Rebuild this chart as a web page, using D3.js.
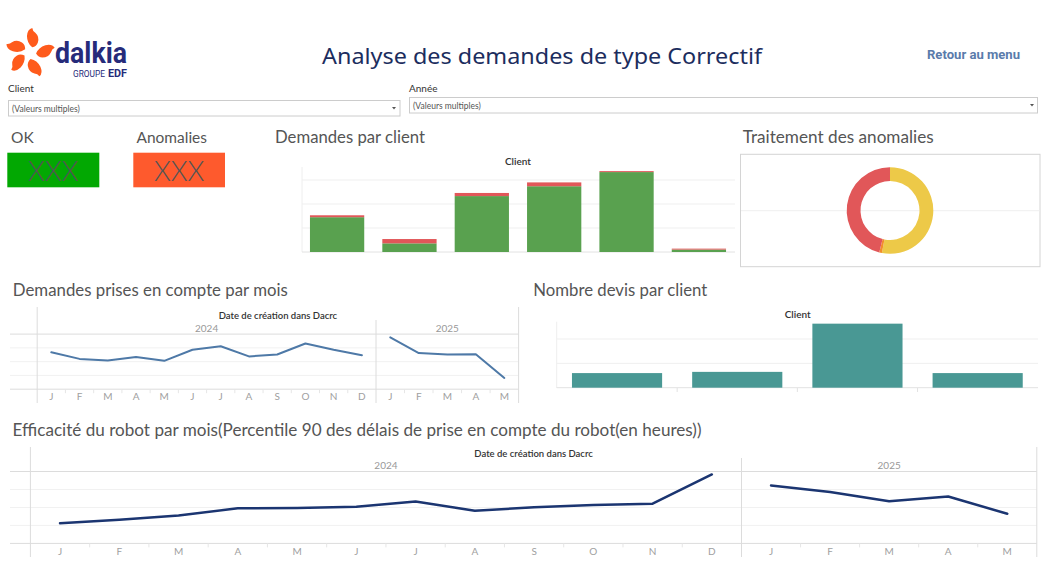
<!DOCTYPE html>
<html><head><meta charset="utf-8">
<script src="https://cdn.jsdelivr.net/npm/d3@7"></script>
<style>
body{margin:0;background:#fff;}
svg{display:block;font-family:Lato,"Open Sans",sans-serif;}
</style>
</head><body>
<svg id="c" width="1046" height="574"></svg>
<script>
// ---------- DATA ----------
const clients = ["Client 1","Client 2","Client 3","Client 4","Client 5","Client 6"];
const okDemandes = [145, 36, 233, 274, 333, 10];
const anomalyDemandes = [8, 18, 13, 16, 4, 4];
const demandesTicks = [0, 100, 200, 300];

const treatmentLabels = ["Traitée", "En cours", "Non traitée"];
const treatmentValues = [53, 1, 46];

const devisClients = ["Client 1","Client 2","Client 3","Client 4"];
const devisValues = [6, 6.5, 26.3, 6];
const devisTicks = [0, 10, 20];

const years = ["2024", "2025"];
const months2024 = ["J","F","M","A","M","J","J","A","S","O","N","D"];
const months2025 = ["J","F","M","A","M"];
const demandesMois2024 = [134, 110, 104, 117, 103, 143, 156, 119, 126, 166, 143, 123];
const demandesMois2025 = [188, 131, 126, 127, 41];
const demandesMoisTicks = [0, 50, 100, 150, 200];
const robot2024 = [22.5, 26.2, 31.1, 39.0, 39.3, 40.9, 46.5, 36.4, 40.1, 42.6, 44.2, 76.7];
const robot2025 = [64.4, 57.3, 46.9, 52.1, 33.0];
const robotTicks = [0, 20, 40, 60, 80];

// ---------- DRAW ----------
const svg = d3.select("#c");
svg.append("rect").attr("width",1046).attr("height",574).attr("fill","#fff");

function txt(x, y, s, o = {}) {
  const t = svg.append("text").attr("x", x).attr("y", y).text(s)
    .attr("dominant-baseline", "central")
    .attr("font-size", o.size || 16)
    .attr("fill", o.fill || "#555")
    .attr("text-anchor", o.anchor || "start")
    .attr("font-weight", o.weight || "normal");
  if (o.family) t.attr("font-family", o.family);
  if (o.len) t.attr("textLength", o.len).attr("lengthAdjust", "spacingAndGlyphs");
  return t;
}
function hline(x1, x2, y, c) {
  svg.append("line").attr("x1",x1).attr("x2",x2).attr("y1",y).attr("y2",y).attr("stroke",c).attr("stroke-width",1);
}
function vline(x, y1, y2, c) {
  svg.append("line").attr("x1",x).attr("x2",x).attr("y1",y1).attr("y2",y2).attr("stroke",c).attr("stroke-width",1);
}

// Logo
const logo = svg.append("g");
const flameAngles = [-78, -152, 145, 75, -5];
flameAngles.forEach(a => {
  logo.append("path")
    .attr("d", "M6,1 Q9,-5 16,-6.5 Q23,-7.5 25,-3 Q22,-2 21,1 Q18,6 12,5.5 Q8,5 6,1Z")
    .attr("fill", "#fe5b1c")
    .attr("transform", `translate(30,53) rotate(${a})`);
});
txt(55, 52, "dalkia", {size: 30, weight: "bold", fill: "#262b7a", family: "Roboto", len: 72});
txt(73, 73.5, "GROUPE", {size: 9, fill: "#262b7a", family: "Roboto", len: 32});
txt(108, 73.5, "EDF", {size: 10, weight: "bold", fill: "#262b7a", family: "Roboto", len: 19});

// Header
txt(542, 55, "Analyse des demandes de type Correctif", {size: 22, fill: "#1c2d5e", anchor: "middle", family: "Noto Sans", len: 440});
txt(973.5, 54, "Retour au menu", {size: 13, weight: "bold", fill: "#5a7bab", anchor: "middle", family: "Roboto", len: 93});

// Filters
txt(8, 88, "Client", {size: 10, fill: "#333"});
txt(409, 88, "Année", {size: 10, fill: "#333"});
svg.append("rect").attr("x",8.5).attr("y",100.5).attr("width",391.5).attr("height",15.5).attr("fill","#fff").attr("stroke","#ccc");
txt(12, 108.5, "(Valeurs multiples)", {size: 8.5, fill: "#555"});
svg.append("path").attr("d","M392,107 L396,107 L394,109.5Z").attr("fill","#555");
svg.append("rect").attr("x",409.5).attr("y",97.5).attr("width",628).attr("height",15.5).attr("fill","#fff").attr("stroke","#ccc");
txt(413, 105.5, "(Valeurs multiples)", {size: 8.5, fill: "#555"});
svg.append("path").attr("d","M1030,104 L1034,104 L1032,106.5Z").attr("fill","#555");

// KPIs
txt(11, 136.5, "OK", {size: 15.5});
txt(136.5, 136.5, "Anomalies", {size: 15.5, len: 70.5});
svg.append("rect").attr("x",7.3).attr("y",152.7).attr("width",92).attr("height",34.6).attr("fill","#02a802");
svg.append("rect").attr("x",133.3).attr("y",152.7).attr("width",91.7).attr("height",34.6).attr("fill","#fe5a2d");
txt(53.3, 170, "XXX", {size: 27, fill: "#555", anchor: "middle", weight: 300});
txt(179.2, 170, "XXX", {size: 27, fill: "#555", anchor: "middle", weight: 300});

// ---------- Demandes par client ----------
txt(275, 136.5, "Demandes par client", {size: 16.5, len: 150});
txt(518, 161, "Client", {size: 10, fill: "#333", anchor: "middle", weight: "600"});
{
  const x = d3.scaleBand().domain(clients).range([302, 734]).paddingInner(0.25).paddingOuter(0.11);
  const y = d3.scaleLinear().domain([0, 300]).range([252, 180]);
  vline(302, 167, 252, "#eee");
  demandesTicks.forEach(t => hline(302, 735, y(t), t === 0 ? "#e2e2e2" : "#efefef"));
  const g = svg.append("g");
  g.selectAll(".ok").data(clients).join("rect")
    .attr("x", d => x(d)).attr("width", x.bandwidth())
    .attr("y", (d,i) => y(okDemandes[i])).attr("height", (d,i) => y(0) - y(okDemandes[i]))
    .attr("fill", "#59a14f");
  g.selectAll(".an").data(clients).join("rect")
    .attr("x", d => x(d)).attr("width", x.bandwidth())
    .attr("y", (d,i) => y(okDemandes[i] + anomalyDemandes[i]))
    .attr("height", (d,i) => y(okDemandes[i]) - y(okDemandes[i] + anomalyDemandes[i]))
    .attr("fill", "#e15759");
}

// ---------- Traitement des anomalies ----------
txt(742.7, 136.5, "Traitement des anomalies", {size: 16.5, len: 191});
svg.append("rect").attr("x",740.5).attr("y",154.3).attr("width",299.5).attr("height",112.4).attr("fill","none").attr("stroke","#d4d4d4");
hline(741, 1039.5, 210.7, "#efefef");
{
  const pie = d3.pie().sort(null)(treatmentValues);
  const arc = d3.arc().innerRadius(29.5).outerRadius(43.3);
  const colors = ["#edc948", "#f28e2b", "#e15759"];
  svg.append("g").attr("transform","translate(890,210.5)")
    .selectAll("path").data(pie).join("path")
    .attr("d", arc).attr("fill", (d,i) => colors[i]);
}

// ---------- Nombre devis par client ----------
txt(533.3, 290, "Nombre devis par client", {size: 16.5, len: 174});
txt(797.7, 314.3, "Client", {size: 10, fill: "#333", anchor: "middle", weight: "600"});
{
  const x = d3.scaleBand().domain(devisClients).range([556.7, 1038]).paddingInner(0.25).paddingOuter(0.127);
  const y = d3.scaleLinear().domain([0, 20]).range([387.7, 339]);
  vline(556.7, 321.7, 388, "#eee");
  devisTicks.forEach(t => hline(556.7, 1038, y(t), t === 0 ? "#e2e2e2" : "#efefef"));
  devisClients.slice(1).forEach(d => vline(x(d) - x.step() * x.paddingInner() / 2, 388, 392, "#e2e2e2"));
  svg.append("g").selectAll("rect").data(devisClients).join("rect")
    .attr("x", d => x(d)).attr("width", x.bandwidth())
    .attr("y", (d,i) => y(devisValues[i])).attr("height", (d,i) => y(0) - y(devisValues[i]))
    .attr("fill", "#499894");
}

// ---------- Line charts ----------
function lineChart(c) {
  const y = d3.scaleLinear().domain([0, c.ticks[c.ticks.length - 1]]).range([c.yBase, c.yTop]);
  c.ticks.forEach((t, i) => hline(c.lineLeft, c.right, y(t),
    (i === 0 || i === c.ticks.length - 1) ? "#dcdcdc" : "#f1f1f1"));
  vline(c.left, c.top, c.bottom, "#dcdcdc");
  vline(c.right, c.top, c.bottom, "#dcdcdc");
  vline(c.div, c.divTop, c.bottom, "#dcdcdc");
  txt((c.left + c.right) / 2, c.headerY, "Date de création dans Dacrc", {size: 9.5, fill: "#333", anchor: "middle", weight: "600"});
  const panels = [
    {year: years[0], months: months2024, values: c.data[0], x0: c.left, x1: c.div},
    {year: years[1], months: months2025, values: c.data[1], x0: c.div, x1: c.right}
  ];
  panels.forEach(p => {
    const idx = d3.range(p.months.length);
    const x = d3.scaleBand().domain(idx).range([p.x0, p.x1]);
    txt((p.x0 + p.x1) / 2, c.yearY, p.year, {size: 10, fill: "#999", anchor: "middle"});
    idx.forEach(i => {
      txt(x(i) + x.bandwidth() / 2, c.monthY, p.months[i], {size: 10, fill: "#a0a0a0", anchor: "middle"});
      if (i > 0) vline(x(i), c.yBase, c.yBase + 4, "#e6e6e6");
    });
    const line = d3.line().x((d, i) => x(i) + x.bandwidth() / 2).y(d => y(d));
    svg.append("path").datum(p.values).attr("d", line)
      .attr("fill", "none").attr("stroke", c.color).attr("stroke-width", c.width)
      .attr("stroke-linejoin", "round").attr("stroke-linecap", "round");
  });
}

txt(12.8, 290.2, "Demandes prises en compte par mois", {size: 16.5, len: 275});
lineChart({left: 37.2, div: 376, right: 518.6, top: 307, divTop: 320, bottom: 403,
  headerY: 315, yearY: 328, yTop: 334.1, yBase: 389.2, monthY: 396, lineLeft: 10,
  ticks: demandesMoisTicks, data: [demandesMois2024, demandesMois2025], color: "#4e79a7", width: 2});

txt(12.5, 430, "Efficacité du robot par mois(Percentile 90 des délais de prise en compte du robot(en heures))", {size: 16.5, len: 689});
lineChart({left: 30.4, div: 741.5, right: 1036.8, top: 447, divTop: 458, bottom: 557,
  headerY: 453, yearY: 465, yTop: 471.5, yBase: 543.4, monthY: 550.5, lineLeft: 10,
  ticks: robotTicks, data: [robot2024, robot2025], color: "#1b3571", width: 2.5});
</script>
</body></html>
